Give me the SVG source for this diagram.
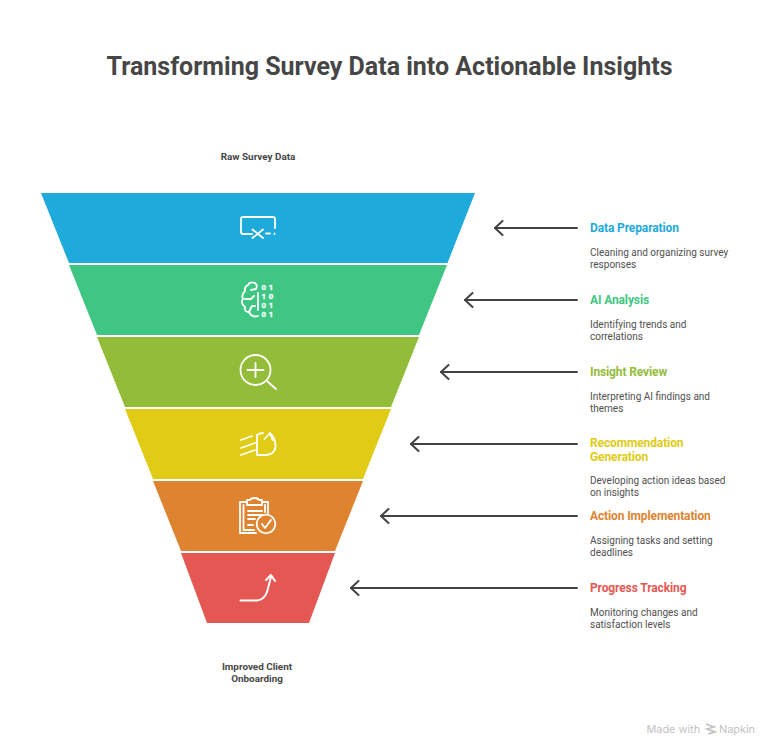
<svg xmlns="http://www.w3.org/2000/svg" width="779" height="756" viewBox="0 0 779 756">
<defs>
<marker id="ah" viewBox="0 0 12 16" refX="11" refY="8" markerWidth="12" markerHeight="16" markerUnits="userSpaceOnUse" orient="auto"><path d="M3.500 1 L11 8 L3.500 15" fill="none" stroke="#434343" stroke-width="2" stroke-linecap="round" stroke-linejoin="round"/></marker>
</defs>
<style>
text{font-family:Roboto,"Liberation Sans",sans-serif}
.title{font-size:25px;font-weight:700;fill:#464646;text-anchor:middle}
.cap{font-size:9.900px;font-weight:700;fill:#464646;text-anchor:middle}
.h{font-size:12px;font-weight:700;letter-spacing:-0.120px}
.d{font-size:10px;fill:#505050}
.conn{fill:none;stroke:#434343;stroke-width:2;stroke-linecap:round;marker-end:url(#ah)}
.ic{fill:none;stroke:#fff;stroke-width:1.800;stroke-linecap:round;stroke-linejoin:round}
text.bit{font-size:7.800px;font-weight:700;fill:#fff;stroke:#fff;stroke-width:0.300px;letter-spacing:2.800px}
</style>
<rect width="779" height="756" fill="#fff"/>
<text class="title" x="389.500" y="75">Transforming Survey Data into Actionable Insights</text>
<text class="cap" x="258" y="160">Raw Survey Data</text>
<text class="cap" x="257" y="670">Improved Client</text>
<text class="cap" x="257" y="682">Onboarding</text>
<g id="connectors">
<path class="conn" d="M577 228H495"/>
<path class="conn" d="M577 300H465"/>
<path class="conn" d="M577 372H441"/>
<path class="conn" d="M577 444H411"/>
<path class="conn" d="M577 516H381"/>
<path class="conn" d="M577 588H351"/>
</g>
<g id="n1"><path d="M41 193H475L447.500 263H69Z" fill="#1eaadb"/>
<path class="ic" d="M252 234H243Q241 234 241 232V219Q241 217 243 217H273Q275 217 275 219V228M252.500 229.500L263 238M263 229.500L252.500 238M266 233.500H270M274.500 233.500V234"/>
<text class="h" x="590" y="232" fill="#1eaadb">Data Preparation</text>
<text class="d" x="590" y="256">Cleaning and organizing survey</text><text class="d" x="590" y="268">responses</text></g>
<g id="n2"><path d="M69 265H447L419 335H97Z" fill="#3ec682"/>
<path class="ic" d="M255 283Q250 281 248 285Q244 287 245 291Q241 295 243 299Q240 303 245 307Q244 312 249 312Q252 318 258 316M258 293V310M255 283Q258 285 256 289L251 290M245 299H251L254 296M249 312L252 306H255"/>
<text class="bit" x="261.500" y="289.500">01</text><text class="bit" x="261.500" y="298.700">10</text><text class="bit" x="261.500" y="308">01</text><text class="bit" x="261.500" y="317.200">01</text>
<text class="h" x="590" y="304" fill="#3ec682">AI Analysis</text>
<text class="d" x="590" y="328">Identifying trends and</text><text class="d" x="590" y="340">correlations</text></g>
<g id="n3"><path d="M97 337H419L391 407H125Z" fill="#93bd38"/>
<circle class="ic" cx="255.500" cy="370" r="15"/>
<path class="ic" d="M255.500 363V377M247.500 370H263.500M267 381L276 389"/>
<text class="h" x="590" y="376" fill="#93bd38">Insight Review</text>
<text class="d" x="590" y="400">Interpreting AI findings and</text><text class="d" x="590" y="412">themes</text></g>
<g id="n4"><path d="M125 409H391L363 479H153Z" fill="#e0cb15"/>
<path class="ic" d="M241 440L252 436M241 448L255 443M241 455L255 450M257 455V435Q260 433 263 433M257 455H266Q276 454 275.500 445Q275 438 270 433M264.500 439L270 433L272.500 440"/>
<text class="h" x="590" y="447" fill="#e0cb15">Recommendation</text><text class="h" x="590" y="461" fill="#e0cb15">Generation</text>
<text class="d" x="590" y="484">Developing action ideas based</text><text class="d" x="590" y="496">on insights</text></g>
<g id="n5"><path d="M153 481H363L335 551H181Z" fill="#de8431"/>
<path class="ic" d="M247 502H240V533H256M262 502H268V513M247 500H250Q251 498 254.500 498Q258 498 259 500H262V505H247ZM243.500 505V530H254M265 505V512M248 511H262M248 515H262M248 519H255M248 525H253"/>
<circle class="ic" cx="266" cy="524" r="9.300"/><path class="ic" d="M262 524L265 528L271 520"/>
<text class="h" x="590" y="520" fill="#de8431">Action Implementation</text>
<text class="d" x="590" y="544">Assigning tasks and setting</text><text class="d" x="590" y="556">deadlines</text></g>
<g id="n6"><path d="M181 553H335L309 623H207Z" fill="#e55753"/>
<path class="ic" style="stroke-width:2" d="M240.500 600.500H257Q264 600 267 592L271 577M266 580L271 575L275 581"/>
<text class="h" x="590" y="592" fill="#e55753">Progress Tracking</text>
<text class="d" x="590" y="616">Monitoring changes and</text><text class="d" x="590" y="628">satisfaction levels</text></g>
<g id="watermark"><text x="646.500" y="733" font-size="10.900" fill="#c2c2c2" style="font-family:Inter,Roboto,sans-serif">Made with</text>
<path d="M706 724L714 727L707 729L715 732L708 734" fill="none" stroke="#c2c2c2" stroke-width="1.800"/>
<text x="719" y="733" font-size="10.900" fill="#c2c2c2" style="font-family:Inter,Roboto,sans-serif">Napkin</text></g>
</svg>
